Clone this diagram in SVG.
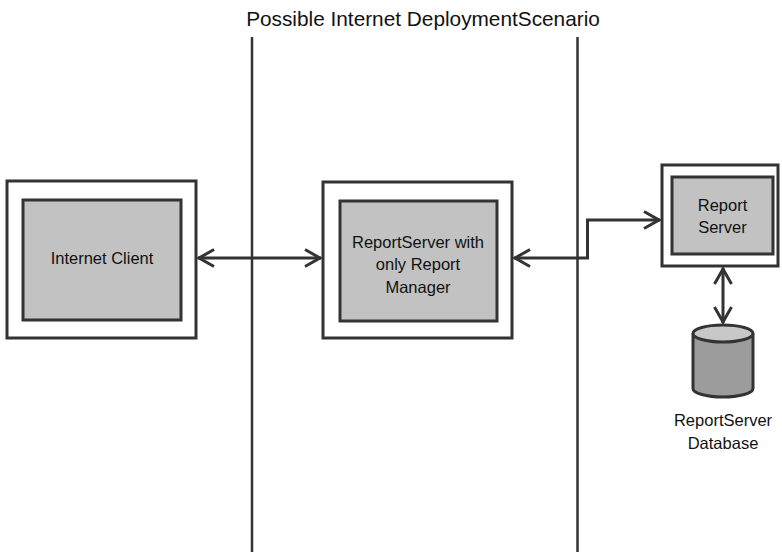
<svg xmlns="http://www.w3.org/2000/svg" width="782" height="552" viewBox="0 0 782 552">
  <style>
    .outer { fill: #ffffff; stroke: #333333; stroke-width: 3; }
    .inner { fill: #c2c2c2; stroke: #333333; stroke-width: 3; }
    .lbl { font-family: "Liberation Sans", Arial, Helvetica, sans-serif; font-size: 16.5px; fill: #111111; text-anchor: middle; }
    .title { font-family: "Liberation Sans", Arial, Helvetica, sans-serif; font-size: 20.8px; fill: #111111; text-anchor: middle; }
    .zone { stroke: #333333; stroke-width: 2.5; fill: none; }
    .link { stroke: #333333; stroke-width: 3; fill: none; }
  </style>
  <defs>
    <marker id="arrow" markerUnits="userSpaceOnUse" viewBox="-20 -12 24 24" markerWidth="24" markerHeight="24" refX="0" refY="0" orient="auto-start-reverse">
      <path d="M-16,-8.5 L-1,0 L-16,8.5" fill="none" stroke="#333333" stroke-width="3"/>
    </marker>
  </defs>

  <rect width="782" height="552" fill="#ffffff"/>

  <!-- heading and zone boundaries -->
  <text class="title" x="423" y="26">Possible Internet DeploymentScenario</text>
  <line class="zone" x1="252" y1="37" x2="252" y2="552"/>
  <line class="zone" x1="577.5" y1="37" x2="577.5" y2="552"/>

  <g id="internet-client">
    <rect class="outer" x="7" y="181" width="189" height="157"/>
    <rect class="inner" x="23" y="200" width="158" height="120"/>
    <text class="lbl" x="102" y="264">Internet Client</text>
  </g>

  <g id="report-manager">
    <rect class="outer" x="323" y="182" width="189" height="156"/>
    <rect class="inner" x="340" y="201" width="157" height="120"/>
    <text class="lbl" x="418" y="248">ReportServer with</text>
    <text class="lbl" x="418" y="270">only Report</text>
    <text class="lbl" x="418" y="293">Manager</text>
  </g>

  <g id="report-server">
    <rect class="outer" x="662" y="165" width="116" height="101"/>
    <rect class="inner" x="672" y="177" width="101" height="77"/>
    <text class="lbl" x="722.5" y="211">Report</text>
    <text class="lbl" x="722.5" y="233">Server</text>
  </g>

  <g id="report-database">
    <path d="M693,333.5 L693,388.5 A30,8.5 0 0 0 753,388.5 L753,333.5" fill="#9c9c9c" stroke="#333333" stroke-width="3"/>
    <ellipse cx="723" cy="333.5" rx="30" ry="8.5" fill="#c8c8c8" stroke="#333333" stroke-width="3"/>
    <text class="lbl" x="723" y="426">ReportServer</text>
    <text class="lbl" x="723" y="449">Database</text>
  </g>

  <g id="connectors">
    <line class="link" x1="198" y1="258" x2="321" y2="258" marker-start="url(#arrow)" marker-end="url(#arrow)"/>
    <path class="link" d="M514,258 L587.5,258 L587.5,220 L660,220" marker-start="url(#arrow)" marker-end="url(#arrow)"/>
    <line class="link" x1="723" y1="268" x2="723" y2="323" marker-start="url(#arrow)" marker-end="url(#arrow)"/>
  </g>
</svg>
